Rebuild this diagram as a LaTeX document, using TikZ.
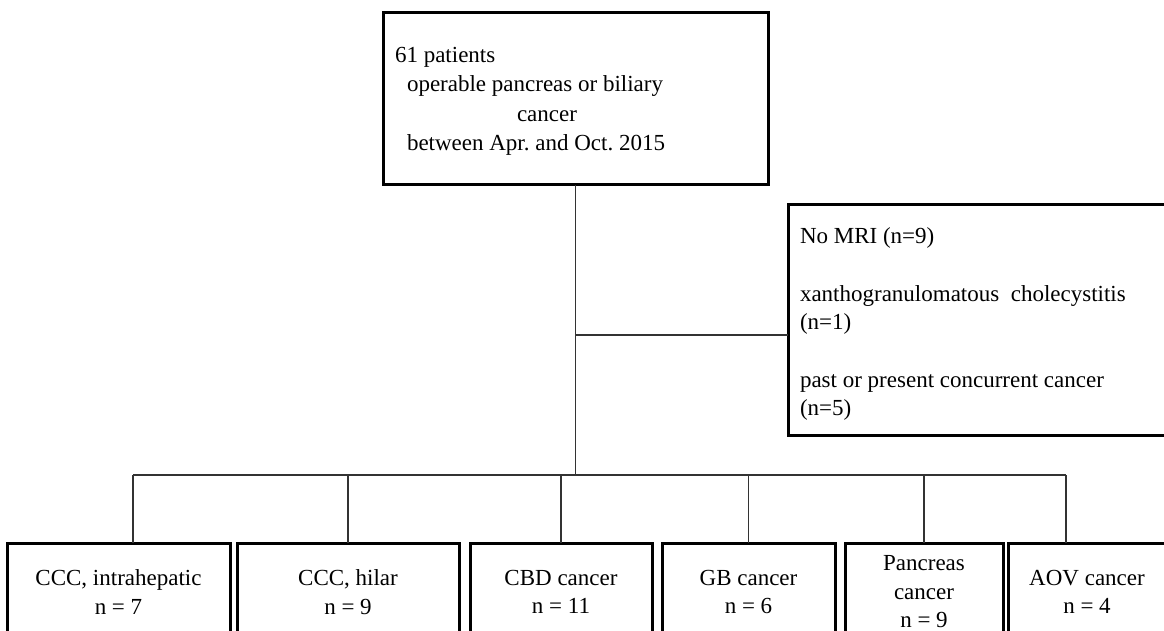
\documentclass[tikz,border=0pt]{standalone}
\usepackage{fontspec}
\setmainfont{Liberation Serif}
\frenchspacing
\begin{document}
\begin{tikzpicture}[x=1pt,y=-1pt,
  box/.style={draw=black, line width=3pt, inner sep=0pt, outer sep=0pt, align=center,
    font=\fontsize{23}{28.5}\selectfont},
  link/.style={draw=black!80, line width=1.3pt},
  txt/.style={inner sep=0pt, outer sep=0pt, align=left}]
\useasboundingbox (0,0) rectangle (1164,631);
\clip (0,0) rectangle (1164,631);

% top box
\node[box, minimum width=385pt, minimum height=172pt] (top) at (575.5,99) {};
\node[txt, anchor=north west, font=\fontsize{23}{29.5}\selectfont] (toptext) at (395,47)
  {61 patients\\
   \hspace*{12pt}operable pancreas or biliary\\
   \hspace*{122pt}cancer\\
   \hspace*{12pt}between Apr. and Oct. 2015};

% exclusion box
\node[box, minimum width=382pt, minimum height=230pt] (ex) at (979,320) {};
\node[txt, anchor=north west, font=\fontsize{23}{28}\selectfont] (extext) at (800,228)
  {No MRI (n=9)\\[30pt]
   xanthogranulomatous\ \ cholecystitis\\
   (n=1)\\[30pt]
   past or present concurrent cancer\\
   (n=5)};

% bottom boxes
\node[box, minimum width=223pt, minimum height=98pt] (b1) at (118.5,592) {CCC, intrahepatic\\n = 7};
\node[box, minimum width=222pt, minimum height=98pt] (b2) at (348,592) {CCC, hilar\\n = 9};
\node[box, minimum width=182pt, minimum height=98pt] (b3) at (561,592) {CBD cancer\\n = 11};
\node[box, minimum width=173pt, minimum height=98pt] (b4) at (748.5,592) {GB cancer\\n = 6};
\node[box, minimum width=158pt, minimum height=98pt] (b5) at (924,592) {Pancreas\\cancer\\n = 9};
\node[box, minimum width=158pt, minimum height=98pt] (b6) at (1087,592) {AOV cancer\\n = 4};

% connectors
\coordinate (j1) at (575.5,335);
\coordinate (j2) at (575.5,475);
\coordinate (d1) at (133,475);
\coordinate (d6) at (1066,475);
\draw[link] (top.south) -- (j2);
\draw[link] (j1) -- (ex.west |- j1);
\draw[link] (d1) -- (d6);
\draw[link] (d1) -- (d1 |- b1.north);
\draw[link] (b2.north |- j2) -- (b2.north);
\draw[link] (b3.north |- j2) -- (b3.north);
\draw[link] (b4.north |- j2) -- (b4.north);
\draw[link] (b5.north |- j2) -- (b5.north);
\draw[link] (d6) -- (d6 |- b6.north);
\end{tikzpicture}
\end{document}
